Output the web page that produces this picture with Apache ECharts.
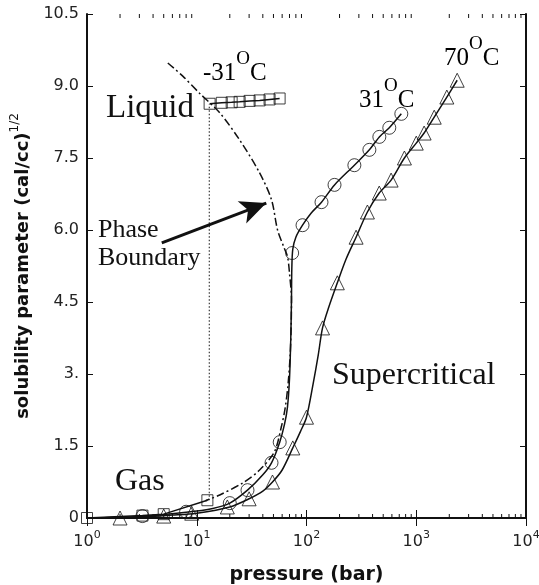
<!DOCTYPE html>
<html>
<head>
<meta charset="utf-8">
<script src="https://cdn.jsdelivr.net/npm/echarts@6/dist/echarts.min.js"></script>
<style>
  html, body { margin: 0; padding: 0; background: #fff; }
  #chart { width: 539px; height: 585px; }
</style>
</head>
<body>
<div id="chart"></div>
<script>
// pressure (bar), solubility parameter (cal/cc)^1/2
const squaresLiquid = [[13.1, 8.63], [16.9, 8.65], [20.8, 8.66], [24.6, 8.67], [30.3, 8.69], [37.4, 8.70], [46.1, 8.72], [56.9, 8.74]]
const squaresGas = [[1, 0], [3.2, 0.05], [5, 0.08], [12.5, 0.37]]
const circles31 = [[3.2, 0.04], [8, 0.13], [20, 0.31], [29, 0.58], [48, 1.15], [57, 1.58], [74, 5.52], [92, 6.1], [137, 6.58], [180, 6.94], [273, 7.35], [374, 7.67], [461, 7.94], [568, 8.13], [731, 8.42]]
const curve31 = [[1, 0], [3, 0.03], [8, 0.12], [14, 0.2], [20, 0.31], [29, 0.58], [40, 0.9], [48, 1.15], [57, 1.58], [63, 1.95], [67, 2.3], [70, 2.9], [72, 3.8], [73, 4.6], [73.5, 5.2], [75, 5.6], [80, 5.85], [92, 6.1], [110, 6.35], [137, 6.58], [180, 6.94], [273, 7.35], [374, 7.67], [461, 7.94], [568, 8.13], [731, 8.42]]
const triangles70 = [[2, 0], [5, 0.04], [9, 0.1], [19, 0.23], [30, 0.4], [49, 0.75], [75, 1.46], [100, 2.1], [140, 3.96], [191, 4.9], [283, 5.85], [359, 6.375], [460, 6.77], [590, 7.04], [780, 7.5], [1000, 7.81], [1180, 8.02], [1458, 8.35], [1900, 8.77], [2360, 9.12]]
const curve70 = [[1, 0], [3, 0.02], [6, 0.06], [10, 0.1], [20, 0.23], [30, 0.4], [40, 0.56], [49, 0.75], [60, 1.0], [75, 1.46], [88, 1.8], [100, 2.1], [115, 2.8], [128, 3.4], [140, 3.96], [160, 4.4], [191, 4.9], [230, 5.4], [283, 5.85], [359, 6.375], [460, 6.77], [590, 7.04], [780, 7.5], [1000, 7.81], [1180, 8.02], [1458, 8.35], [1900, 8.77], [2360, 9.12]]
const phaseBoundary = [[5.45, 9.48], [7.5, 9.2], [10.6, 8.85], [16.2, 8.44], [24.6, 7.875], [37.4, 7.19], [48, 6.63], [54.5, 6.0], [62, 5.65], [67.2, 5.44], [70, 5.1], [73, 4.55], [72.5, 4.0], [71, 3.4], [68, 2.8], [64, 2.3], [59, 1.9], [51, 1.38], [37.4, 1.0], [26.2, 0.73], [16.2, 0.48], [12, 0.36]]
const dottedLine = [[13, 0.37], [13, 8.62]]
const arrowFrom = [4.8, 5.73]
const arrowTo = [43, 6.56]

const yTickLabels = ['0', '1.5', '3.', '4.5', '6.0', '7.5', '9.0', '10.5']
const xTickExponents = ['0', '1', '2', '3', '4']
const minorTicks = [2, 3, 4, 5, 6, 7, 8, 9, 20, 30, 40, 50, 60, 70, 80, 90, 200, 300, 400, 500, 600, 700, 800, 900, 2000, 3000, 4000, 5000, 6000, 7000, 8000, 9000]

const ink = '#111'
const serif = 'Liberation Serif'
const sans = 'DejaVu Sans'

const chart = echarts.init(document.getElementById('chart'))

// temperature labels: digits with a raised "O" as degree sign
const supRich = (size, supSize) => ({
  n: { fontFamily: serif, fontSize: size, color: ink, lineHeight: 36, verticalAlign: 'bottom' },
  s: { fontFamily: serif, fontSize: supSize, color: ink, lineHeight: 8, verticalAlign: 'top' }
})

const baseAxisX = {
  type: 'log',
  logBase: 10,
  min: 1,
  max: 10000,
  axisLine: { show: true, lineStyle: { color: ink, width: 2 } },
  axisTick: { show: true, inside: true, length: 8, lineStyle: { color: ink, width: 1 } },
  splitLine: { show: false }
}
const baseAxisY = {
  type: 'value',
  min: 0,
  max: 10.5,
  interval: 1.5,
  axisLine: { show: true, lineStyle: { color: ink, width: 2 } },
  axisTick: { show: true, inside: true, length: 6, lineStyle: { color: ink, width: 1 } },
  splitLine: { show: false }
}

const option = {
  animation: false,
  backgroundColor: '#fff',
  grid: { left: 87, right: 13, top: 14, bottom: 67, outerBoundsMode: 'none' },
  xAxis: [
    Object.assign({}, baseAxisX, {
      position: 'bottom',
      name: 'pressure (bar)',
      nameLocation: 'middle',
      nameGap: 48,
      nameTextStyle: { fontFamily: sans, fontWeight: 'bold', fontSize: 19, color: ink },
      axisLabel: {
        margin: 12,
        formatter: (v) => '{b|10}{s|' + xTickExponents[Math.round(Math.log10(v))] + '}',
        rich: {
          b: { fontFamily: sans, fontSize: 16, color: '#222', lineHeight: 20, verticalAlign: 'bottom' },
          s: { fontFamily: sans, fontSize: 11, color: '#222', lineHeight: 11, verticalAlign: 'top' }
        }
      }
    }),
    Object.assign({}, baseAxisX, { position: 'top', axisLabel: { show: false } })
  ],
  yAxis: [
    Object.assign({}, baseAxisY, {
      position: 'left',
      name: '{t|solubility parameter (cal/cc)}{s|1/2}',
      nameLocation: 'middle',
      nameGap: 50,
      nameRotate: 90,
      nameTextStyle: {
        rich: {
          t: { fontFamily: sans, fontWeight: 'bold', fontSize: 18, color: ink, lineHeight: 24, verticalAlign: 'bottom' },
          s: { fontFamily: sans, fontSize: 12, color: ink, lineHeight: 12, verticalAlign: 'top' }
        }
      },
      axisLabel: {
        margin: 8,
        fontFamily: sans,
        fontSize: 16,
        color: '#222',
        formatter: (v) => yTickLabels[Math.round(v / 1.5)]
      }
    }),
    Object.assign({}, baseAxisY, { position: 'right', axisLabel: { show: false } })
  ],
  series: [
    {
      // minor decade ticks on bottom and top edges
      type: 'custom',
      silent: true,
      clip: false,
      renderItem: (params, api) => {
        const v = api.value(0)
        const b = api.coord([v, 0])
        const t = api.coord([v, 10.5])
        const st = { stroke: ink, lineWidth: 1 }
        return {
          type: 'group',
          children: [
            { type: 'line', shape: { x1: b[0], y1: b[1], x2: b[0], y2: b[1] - 4 }, style: st },
            { type: 'line', shape: { x1: t[0], y1: t[1], x2: t[0], y2: t[1] + 4 }, style: st }
          ]
        }
      },
      data: minorTicks.map(v => [v, 0])
    },
    {
      type: 'line', data: phaseBoundary, smooth: 0.3, showSymbol: false, silent: true,
      lineStyle: { color: ink, width: 1.5, type: [8, 3, 2, 3] }
    },
    {
      type: 'line', data: dottedLine, showSymbol: false, silent: true,
      lineStyle: { color: ink, width: 1, type: [1.5, 2] },
      markLine: {
        silent: true,
        symbol: ['none', 'arrow'],
        symbolSize: [18, 26],
        label: { show: false },
        lineStyle: { color: ink, width: 3, type: 'solid' },
        data: [[{ coord: arrowFrom }, { coord: arrowTo }]]
      }
    },
    {
      type: 'line', data: squaresGas, showSymbol: false, silent: true,
      lineStyle: { color: ink, width: 1.5 }
    },
    {
      type: 'line', data: squaresLiquid, showSymbol: false, silent: true,
      lineStyle: { color: ink, width: 1.5 }
    },
    {
      type: 'line', data: curve31, smooth: 0.3, showSymbol: false, silent: true,
      lineStyle: { color: ink, width: 1.5 }
    },
    {
      type: 'line', data: curve70, smooth: 0.3, showSymbol: false, silent: true,
      lineStyle: { color: ink, width: 1.5 }
    },
    {
      type: 'scatter', data: squaresGas.concat(squaresLiquid), symbol: 'rect', symbolSize: 11,
      itemStyle: { color: 'transparent', borderColor: ink, borderWidth: 1 }
    },
    {
      type: 'scatter', data: circles31, symbol: 'circle', symbolSize: 13,
      itemStyle: { color: 'transparent', borderColor: ink, borderWidth: 1 }
    },
    {
      type: 'scatter', data: triangles70, symbol: 'triangle', symbolSize: 14,
      itemStyle: { color: 'transparent', borderColor: ink, borderWidth: 1 }
    }
  ],
  graphic: [
    { type: 'text', x: 106, y: 92, style: { text: 'Liquid', font: '33px "Liberation Serif"', fill: ink } },
    { type: 'text', x: 98, y: 216, style: { text: 'Phase\nBoundary', font: '26px "Liberation Serif"', lineHeight: 28, fill: ink } },
    { type: 'text', x: 115, y: 466, style: { text: 'Gas', font: '32px "Liberation Serif"', fill: ink } },
    { type: 'text', x: 332, y: 360, style: { text: 'Supercritical', font: '32px "Liberation Serif"', fill: ink } },
    { type: 'text', x: 203, y: 50, style: { text: '{n|-31}{s|O}{n|C}', rich: supRich(25, 19) } },
    { type: 'text', x: 359, y: 77, style: { text: '{n|31}{s|O}{n|C}', rich: supRich(25, 19) } },
    { type: 'text', x: 444, y: 35, style: { text: '{n|70}{s|O}{n|C}', rich: supRich(25, 19) } }
  ]
}

chart.setOption(option)
</script>
</body>
</html>
